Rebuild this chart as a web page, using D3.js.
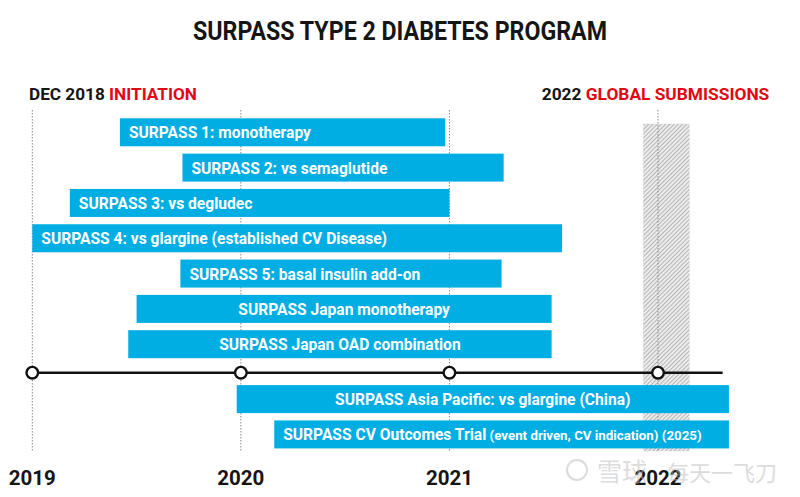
<!DOCTYPE html>
<html><head><meta charset="utf-8">
<script src="https://cdn.jsdelivr.net/npm/d3@7"></script>
<style>
html,body{margin:0;padding:0;background:#fff;}
svg{display:block;font-family:Roboto,"DejaVu Sans",sans-serif;}
</style></head>
<body><svg id="c" width="800" height="497"></svg>
<script>
// ---- data ----
const title = "SURPASS TYPE 2 DIABETES PROGRAM";
const years = [2019, 2020, 2021, 2022];
const startLabel = ["DEC 2018 ", "INITIATION"];
const endLabel = ["2022 ", "GLOBAL SUBMISSIONS"];
const trialNames = [
  "SURPASS 1: monotherapy",
  "SURPASS 2: vs semaglutide",
  "SURPASS 3: vs degludec",
  "SURPASS 4: vs glargine (established CV Disease)",
  "SURPASS 5: basal insulin add-on",
  "SURPASS Japan monotherapy",
  "SURPASS Japan OAD combination",
  "SURPASS Asia Pacific: vs glargine (China)",
  "SURPASS CV Outcomes Trial"
];
const trialNotes = ["", "", "", "", "", "", "", "", "(event driven, CV indication) (2025)"];
const trialStart = [2019.42, 2019.72, 2019.18, 2019.00, 2019.71, 2019.50, 2019.46, 2019.98, 2020.16];
const trialEnd   = [2020.98, 2021.26, 2021.00, 2021.54, 2021.25, 2021.49, 2021.49, 2022.34, 2022.34];
const trialBelowTimeline = [false, false, false, false, false, false, false, true, true];
const centeredLabels = ["SURPASS Japan monotherapy", "SURPASS Japan OAD combination", "SURPASS Asia Pacific: vs glargine (China)"];
const timelineEnd = 2022.31;
const submissionWindow = [2021.93, 2022.15];
const watermark = ["雪球", "每天一飞刀"];

// ---- layout ----
const svg = d3.select("#c");
const x = d3.scaleLinear().domain([2019, 2022]).range([32.3, 658]);
const upperCount = trialBelowTimeline.filter(d => !d).length;
const yRow = d3.scaleLinear().domain([0, upperCount - 1]).range([132.3, 344.2]);
const lowerGap = 19.6;
const rowY = i => yRow(i) + (trialBelowTimeline[i] ? lowerGap : 0);
const barH = 28;
const timelineY = 372.7;
const BLUE = "#00aee4", RED = "#e30613", INK = "#151515";

const trials = trialNames.map((n, i) => ({name: n, note: trialNotes[i], s: trialStart[i], e: trialEnd[i], i}));

// defs: hatch pattern
const defs = svg.append("defs");
const pat = defs.append("pattern").attr("id", "hatch").attr("patternUnits", "userSpaceOnUse")
  .attr("width", 3).attr("height", 3).attr("patternTransform", "rotate(45)");
pat.append("rect").attr("width", 3).attr("height", 3).attr("fill", "#ececec");
pat.append("line").attr("x1", 0).attr("y1", 0).attr("x2", 0).attr("y2", 3)
  .attr("stroke", "#909090").attr("stroke-width", 1.2);

// title
svg.append("text").attr("x", 400).attr("y", 39.5).attr("text-anchor", "middle")
  .attr("font-size", 26).attr("font-weight", 700).attr("fill", INK)
  .attr("textLength", 414).attr("lengthAdjust", "spacingAndGlyphs").text(title);

// header labels
const h1 = svg.append("text").attr("x", 29).attr("y", 99.5).attr("font-size", 17.4).attr("font-weight", 700)
  .attr("textLength", 168).attr("lengthAdjust", "spacingAndGlyphs");
h1.append("tspan").attr("fill", INK).text(startLabel[0]);
h1.append("tspan").attr("fill", RED).text(startLabel[1]);
const h2 = svg.append("text").attr("x", 541.7).attr("y", 99.5).attr("font-size", 17.4).attr("font-weight", 700)
  .attr("textLength", 227.6).attr("lengthAdjust", "spacingAndGlyphs");
h2.append("tspan").attr("fill", INK).text(endLabel[0]);
h2.append("tspan").attr("fill", RED).text(endLabel[1]);

// submission window hatch
svg.append("rect").attr("x", x(submissionWindow[0])).attr("y", 124)
  .attr("width", x(submissionWindow[1]) - x(submissionWindow[0])).attr("height", 327)
  .attr("fill", "url(#hatch)").attr("stroke", "#cfcfcf").attr("stroke-width", 0.8).attr("stroke-dasharray", "1.5,1.5");

// dotted year lines
svg.selectAll("line.grid").data(years).join("line").attr("class", "grid")
  .attr("x1", d => x(d)).attr("x2", d => x(d)).attr("y1", 110).attr("y2", 452)
  .attr("stroke", "#8a8a8a").attr("stroke-width", 1).attr("stroke-dasharray", "1.5,1.5");

// bars
const g = svg.selectAll("g.trial").data(trials).join("g").attr("class", "trial");
g.append("rect").attr("x", d => x(d.s)).attr("y", d => rowY(d.i) - barH / 2)
  .attr("width", d => x(d.e) - x(d.s)).attr("height", barH).attr("fill", BLUE);
g.each(function(d) {
  const c = centeredLabels.includes(d.name);
  const t = d3.select(this).append("text")
    .attr("x", c ? (x(d.s) + x(d.e)) / 2 : x(d.s) + 9)
    .attr("y", rowY(d.i) + 6)
    .attr("text-anchor", c ? "middle" : "start")
    .attr("fill", "#fff").attr("font-weight", 700).attr("font-size", 15.6);
  t.append("tspan").text(d.name);
  if (d.note) t.append("tspan").attr("font-size", 13.3).text(" " + d.note);
});

// timeline
svg.append("line").attr("x1", x(2019)).attr("x2", x(timelineEnd)).attr("y1", timelineY).attr("y2", timelineY)
  .attr("stroke", "#111").attr("stroke-width", 2.6);
svg.selectAll("circle.yr").data(years).join("circle").attr("class", "yr")
  .attr("cx", d => x(d)).attr("cy", timelineY).attr("r", 5.8)
  .attr("fill", "#fff").attr("stroke", "#111").attr("stroke-width", 2.4);

// year labels
svg.selectAll("text.yl").data(years).join("text").attr("class", "yl")
  .attr("x", d => x(d)).attr("y", 485).attr("text-anchor", "middle")
  .attr("font-size", 20.5).attr("font-weight", 700).attr("fill", INK).text(d => d);

// watermark
const wm = svg.append("g").attr("opacity", 0.5);
wm.append("circle").attr("cx", 577).attr("cy", 470).attr("r", 10).attr("fill", "none").attr("stroke", "#bbb").attr("stroke-width", 2);
wm.append("text").attr("x", 597).attr("y", 481).attr("font-family", "Noto Sans CJK SC").attr("font-size", 25)
  .attr("fill", "#bbb").text(watermark[0]);
wm.append("text").attr("x", 667).attr("y", 481).attr("font-family", "Noto Sans CJK SC").attr("font-size", 22)
  .attr("fill", "#bbb").text(watermark[1]);
</script></body></html>
